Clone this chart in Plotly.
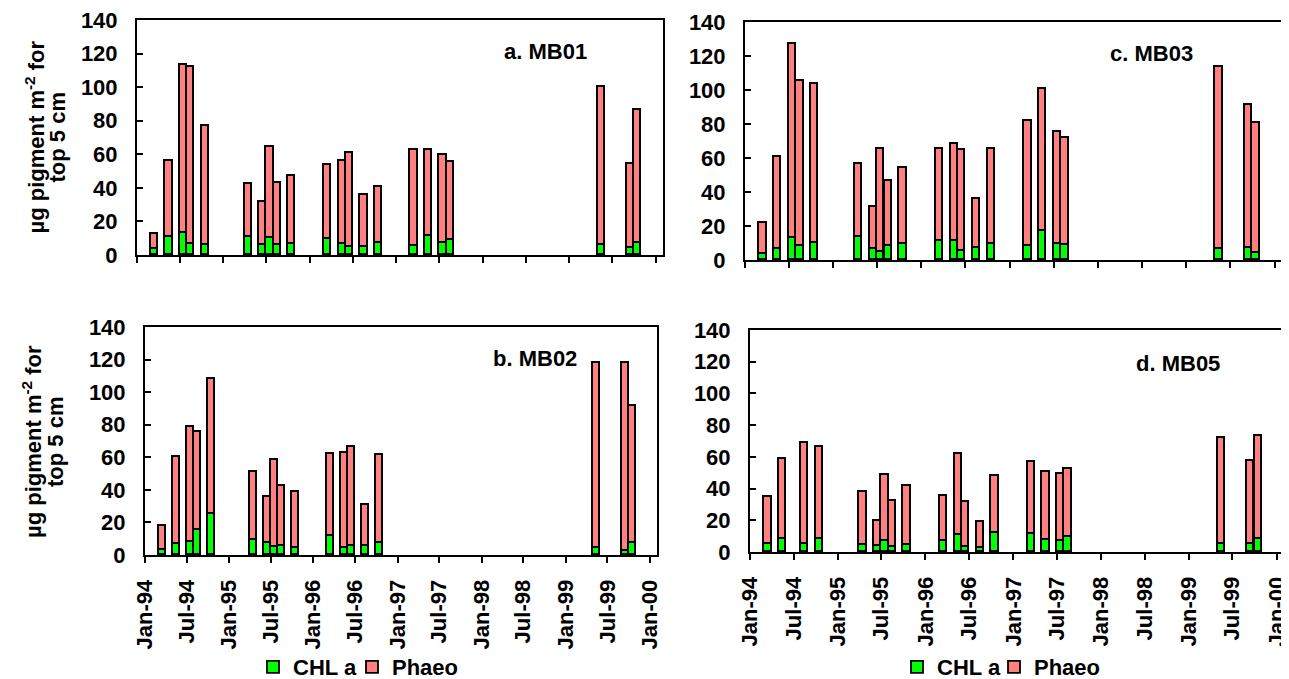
import plotly.graph_objects as go

# ---------------- data ----------------
tick_dates = ["1994-01-01", "1994-07-01", "1995-01-01", "1995-07-01", "1996-01-01",
              "1996-07-01", "1997-01-01", "1997-07-01", "1998-01-01", "1998-07-01",
              "1999-01-01", "1999-07-01", "2000-01-01"]
tick_labels = ["Jan-94", "Jul-94", "Jan-95", "Jul-95", "Jan-96", "Jul-96", "Jan-97",
               "Jul-97", "Jan-98", "Jul-98", "Jan-99", "Jul-99", "Jan-00"]

# MB01 (panel a) and MB03 (panel c) share sampling months
months_ac = ["1994-03", "1994-05", "1994-07", "1994-08", "1994-10", "1995-04", "1995-06",
             "1995-07", "1995-08", "1995-10", "1996-03", "1996-05", "1996-06", "1996-08",
             "1996-10", "1997-03", "1997-05", "1997-07", "1997-08", "1999-05", "1999-09",
             "1999-10"]
mb01_chl = [3.4, 10.5, 12.9, 6.3, 5.9, 10.5, 5.9, 10.3, 5.9, 6.7, 9.7, 6.7, 5.0, 5.0,
            7.3, 5.3, 11.5, 7.1, 8.7, 6.1, 4.4, 7.3]
mb01_phaeo = [8.9, 45.3, 100.0, 106.0, 70.9, 31.7, 25.8, 53.9, 37.1, 40.4, 43.8, 49.1,
              55.8, 31.0, 33.1, 57.3, 51.1, 52.5, 46.5, 93.7, 49.6, 79.0]
mb03_chl = [3.5, 6.3, 12.7, 8.2, 9.8, 13.7, 6.7, 4.5, 8.0, 9.4, 11.2, 11.2, 5.3, 7.0,
            9.2, 8.2, 17.2, 9.6, 9.0, 6.3, 6.9, 3.9]
mb03_phaeo = [18.0, 54.2, 114.6, 97.1, 93.6, 42.5, 24.4, 60.9, 38.4, 45.0, 54.2, 57.3,
              59.3, 29.0, 56.2, 73.8, 83.6, 65.6, 62.9, 107.5, 84.1, 76.4]

# MB02 (panel b)
months_b = ["1994-03", "1994-05", "1994-07", "1994-08", "1994-10", "1995-04", "1995-06",
            "1995-07", "1995-08", "1995-10", "1996-03", "1996-05", "1996-06", "1996-08",
            "1996-10", "1999-05", "1999-09", "1999-10"]
mb02_chl = [3.3, 6.7, 7.9, 15.5, 25.4, 9.4, 7.1, 5.1, 5.7, 4.3, 11.6, 4.1, 5.7, 5.3,
            7.3, 4.3, 2.4, 7.1]
mb02_phaeo = [14.8, 53.5, 70.9, 60.0, 82.7, 41.3, 28.7, 53.3, 36.6, 34.2, 50.7, 58.6,
              60.4, 25.6, 54.2, 113.9, 115.8, 84.3]

# MB05 (panel d)
months_d = ["1994-03", "1994-05", "1994-08", "1994-10", "1995-04", "1995-06", "1995-07",
            "1995-08", "1995-10", "1996-03", "1996-05", "1996-06", "1996-08", "1996-10",
            "1997-03", "1997-05", "1997-07", "1997-08", "1999-05", "1999-09", "1999-10"]
mb05_chl = [4.9, 8.2, 5.3, 8.2, 4.6, 4.0, 7.0, 3.4, 4.6, 7.0, 10.6, 3.4, 2.5, 12.2,
            11.2, 7.6, 7.0, 9.7, 4.9, 4.9, 8.2]
mb05_phaeo = [29.7, 50.3, 63.7, 57.9, 33.4, 15.6, 41.6, 28.7, 36.8, 28.5, 51.3, 28.1,
              16.3, 35.9, 45.4, 43.1, 42.2, 42.7, 66.9, 52.3, 64.9]

panel_titles = ["a. MB01", "b. MB02", "c. MB03", "d. MB05"]
series_names = ["CHL a", "Phaeo"]
ytitle_lines = ["µg pigment m<sup>-2</sup> for", "top 5 cm"]

# ---------------- styling ----------------
OFF = 8                      # page body margin
W, H = 1289 - OFF, 679 - OFF
GREEN = "#00FF00"
SALMON = "#FF8080"
FONT = "Liberation Sans, Arial, sans-serif"
FS = 22
BAR_W = 30.4 * 86400000  # one month in ms

def fx(p):
    return (p - OFF) / W

def fy(p):
    return 1 - (p - OFF) / H

fig = go.Figure()

panels = [
    # (axis suffix, months, chl, phaeo, x-range px, y-range px, legends, show ticklabels)
    ("", months_ac, mb01_chl, mb01_phaeo, (137, 663), (20, 255), None, False),
    ("2", months_ac, mb03_chl, mb03_phaeo, (745, 1282), (22, 260), None, False),
    ("3", months_b, mb02_chl, mb02_phaeo, (145, 657), (327, 555), ("legend", "legend2"), True),
    ("4", months_d, mb05_chl, mb05_phaeo, (750, 1284), (330, 552), ("legend3", "legend4"), True),
]

layout_axes = {}
for suf, months, chl, phaeo, xd, yd, legs, showlab in panels:
    for i, (name, vals, col) in enumerate(((series_names[0], chl, GREEN),
                                            (series_names[1], phaeo, SALMON))):
        fig.add_trace(go.Bar(
            x=months, y=vals, name=name,
            xaxis="x" + suf, yaxis="y" + suf,
            xperiod="M1", xperiodalignment="middle",
            width=BAR_W,
            marker=dict(color=col, line=dict(color="black", width=1.8)),
            showlegend=legs is not None,
            legend=legs[i] if legs else "legend",
        ))
    layout_axes["xaxis" + suf] = dict(
        domain=[fx(xd[0]), fx(xd[1])], anchor="y" + suf, type="date",
        range=["1994-01-01", "2000-02-01"],
        tickmode="array", tickvals=tick_dates, ticktext=tick_labels,
        showticklabels=showlab, tickangle=-90,
        ticks="outside", ticklen=6, tickwidth=2, tickcolor="black",
        ticklabelstandoff=8, automargin=False, ticklabeloverflow="allow",
        showline=True, linewidth=2, linecolor="black", mirror=True,
        showgrid=False, zeroline=False,
    )
    layout_axes["yaxis" + suf] = dict(
        domain=[fy(yd[1]), fy(yd[0])], anchor="x" + suf,
        range=[0, 140], tickmode="linear", tick0=0, dtick=20,
        ticks="inside", ticklen=6, tickwidth=2, tickcolor="black",
        ticklabelstandoff=13, automargin=False, ticklabeloverflow="allow",
        showline=True, linewidth=2, linecolor="black", mirror=True,
        showgrid=False, zeroline=False,
    )

annotations = []
label_pos = [(545, 52), (535, 359), (1151, 53), (1178, 363)]
for t, (lx, ly) in zip(panel_titles, label_pos):
    annotations.append(dict(text=t, x=fx(lx), y=fy(ly), xref="paper", yref="paper",
                            xanchor="center", yanchor="middle", showarrow=False,
                            font=dict(size=FS)))
# y-axis titles (two rotated lines each)
for (x1, x2, ty) in [(34, 57, 137.5), (32, 55, 442)]:
    for line, tx in zip(ytitle_lines, (x1, x2)):
        annotations.append(dict(text=line, x=fx(tx), y=fy(ty), xref="paper", yref="paper",
                                xanchor="center", yanchor="middle", showarrow=False,
                                textangle=-90, font=dict(size=FS)))

# one legend per entry so each entry can be placed exactly (text start - 40 px)
legend_text_x = {"legend": 293, "legend2": 392, "legend3": 937, "legend4": 1034}
legends = {}
for key, tx in legend_text_x.items():
    legends[key] = dict(orientation="h", x=fx(tx - 40), xanchor="left", y=fy(667),
                        yanchor="middle", font=dict(size=FS), itemwidth=30,
                        bgcolor="rgba(0,0,0,0)", borderwidth=0)

fig.update_layout(
    template="none",
    width=W, height=H,
    margin=dict(l=0, r=0, t=0, b=0, autoexpand=False),
    barmode="stack",
    bargap=0,
    paper_bgcolor="white", plot_bgcolor="white",
    font=dict(family=FONT, size=FS, color="black", weight="bold"),
    annotations=annotations,
    **legends,
    **layout_axes,
)

fig.write_html("out.html")
